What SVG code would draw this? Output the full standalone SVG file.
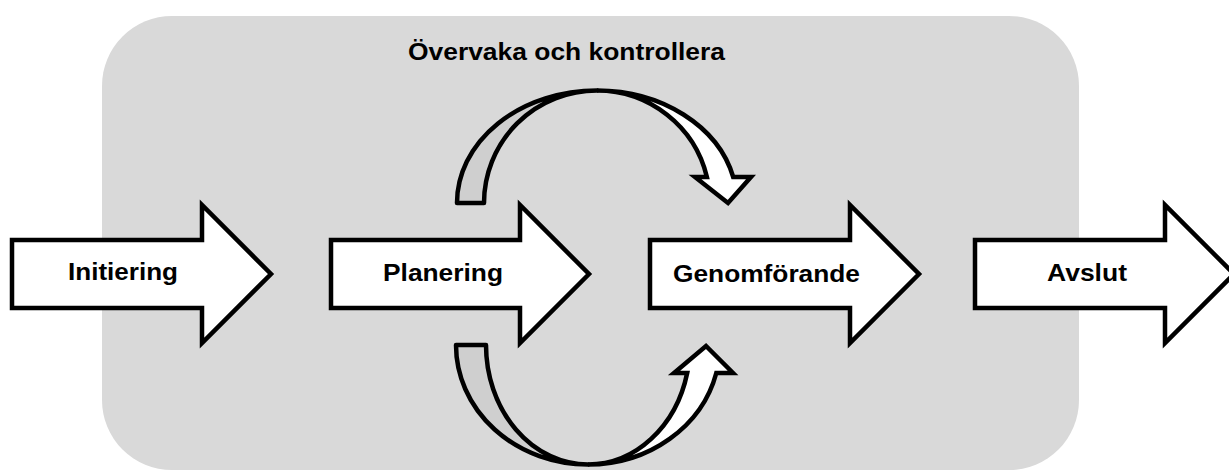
<svg xmlns="http://www.w3.org/2000/svg" width="1229" height="471" viewBox="0 0 1229 471">
  <style>
    .blk { fill: #ffffff; stroke: #000000; stroke-width: 4.5; stroke-linejoin: miter; }
    .back { fill: #cfcfcf; stroke: #000000; stroke-width: 4.5; stroke-linejoin: round; }
    .front { fill: #ffffff; stroke: #000000; stroke-width: 4.5; stroke-linejoin: miter; }
    .lbl { font-family: "Liberation Sans", Arial, Helvetica, sans-serif; font-weight: bold; font-size: 23px; fill: #000000; }
  </style>
  <rect id="phase-area" x="102" y="16" width="977" height="454" rx="70" ry="70" fill="#d9d9d9"/>
  <g id="title">
    <text class="lbl" x="408" y="60" textLength="317" lengthAdjust="spacingAndGlyphs">Övervaka och kontrollera</text>
  </g>
  <g id="node-initiering">
    <path class="blk" d="M12,240 L202,240 L202,205 L271,274 L202,343 L202,308 L12,308 Z"/>
    <text class="lbl" x="68" y="280" textLength="110" lengthAdjust="spacingAndGlyphs">Initiering</text>
  </g>
  <g id="node-planering">
    <path class="blk" d="M331,240 L520,240 L520,205 L589,274 L520,343 L520,308 L331,308 Z"/>
    <text class="lbl" x="383" y="281" textLength="120" lengthAdjust="spacingAndGlyphs">Planering</text>
  </g>
  <g id="node-genomforande">
    <path class="blk" d="M650,240 L850,240 L850,205 L919,274 L850,343 L850,308 L650,308 Z"/>
    <text class="lbl" x="673" y="282" textLength="187" lengthAdjust="spacingAndGlyphs">Genomförande</text>
  </g>
  <g id="node-avslut">
    <path class="blk" d="M975,240 L1165,240 L1165,205 L1234,274 L1165,343 L1165,308 L975,308 Z"/>
    <text class="lbl" x="1047" y="281" textLength="80" lengthAdjust="spacingAndGlyphs">Avslut</text>
  </g>
  <g id="connectors">
    <g id="loop-top">
      <path class="back" d="M457,203 A140,112.5 0 0 1 597,90.5 A113,112.5 0 0 0 484,203 Z"/>
      <path class="front" d="M597,90.5 A140,112.5 0 0 1 733.2,177 L751,177 L728,203 L695,177 L706.9,177 A113,112.5 0 0 0 597,90.5 Z"/>
    </g>
    <g id="loop-bottom">
      <path class="back" d="M456,345 A132,119.5 0 0 0 588,464.5 A102,119.5 0 0 1 486,345 Z"/>
      <path class="front" d="M588,464.5 A132,119.5 0 0 0 716.3,373 L733,373 L706,346 L674,373 L687.2,373 A102,119.5 0 0 1 588,464.5 Z"/>
    </g>
  </g>
</svg>
